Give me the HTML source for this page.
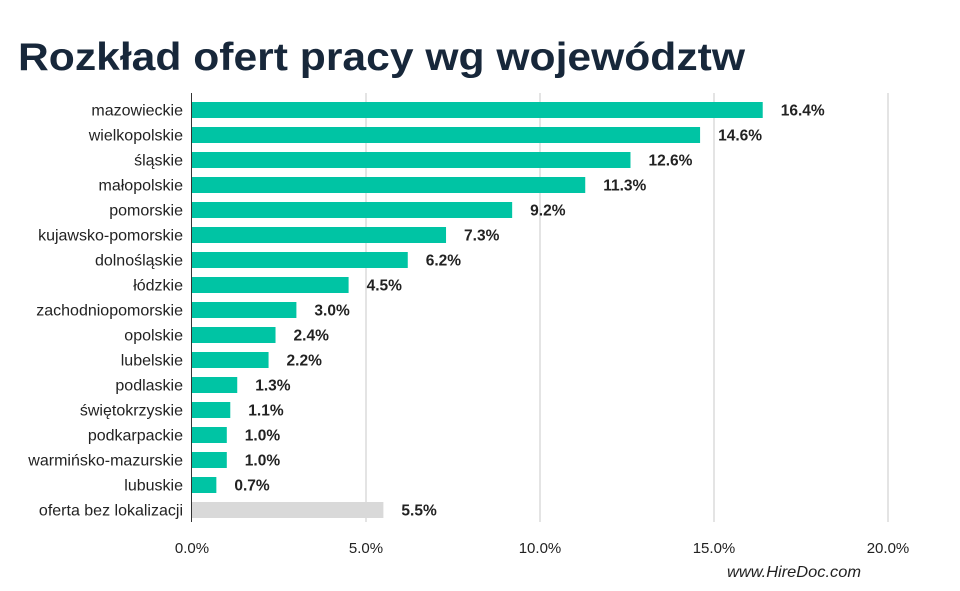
<!DOCTYPE html>
<html><head><meta charset="utf-8"><style>
body{margin:0;background:#fff;width:960px;height:591px;overflow:hidden}
svg{display:block}
</style></head><body>
<svg id="chart" width="960" height="591" xmlns="http://www.w3.org/2000/svg" font-family="Liberation Sans, sans-serif">
<text x="18" y="70" font-size="39" font-weight="bold" fill="#17273a" textLength="727" lengthAdjust="spacingAndGlyphs">Rozkład ofert pracy wg województw</text>
<g id="grid"></g><g id="bars"></g>
<text x="861" y="577" font-size="16" font-style="italic" text-anchor="end" fill="#222" textLength="134" lengthAdjust="spacingAndGlyphs">www.HireDoc.com</text>
</svg>
<script>
const categories=["mazowieckie","wielkopolskie","śląskie","małopolskie","pomorskie","kujawsko-pomorskie","dolnośląskie","łódzkie","zachodniopomorskie","opolskie","lubelskie","podlaskie","świętokrzyskie","podkarpackie","warmińsko-mazurskie","lubuskie","oferta bez lokalizacji"];
const values=[16.4,14.6,12.6,11.3,9.2,7.3,6.2,4.5,3.0,2.4,2.2,1.3,1.1,1.0,1.0,0.7,5.5];
const valueLabels=["16.4%","14.6%","12.6%","11.3%","9.2%","7.3%","6.2%","4.5%","3.0%","2.4%","2.2%","1.3%","1.1%","1.0%","1.0%","0.7%","5.5%"];
const ticks=[0,5,10,15,20];
const tickLabels=["0.0%","5.0%","10.0%","15.0%","20.0%"];
const NS="http://www.w3.org/2000/svg";
const plotX0=192,plotX1=888,plotTop=93,plotBottom=522,maxV=20;
const xs=v=>plotX0+(v/maxV)*(plotX1-plotX0);
const band=25;
const ys=i=>110+band*i;
function mk(t,a,p){const e=document.createElementNS(NS,t);for(const k in a)e.setAttribute(k,a[k]);p.appendChild(e);return e;}
const gGrid=document.getElementById('grid'),gBars=document.getElementById('bars');
ticks.forEach((t,i)=>{
  if(i>0){const l=mk('line',{x1:xs(t),x2:xs(t),y1:plotTop,y2:plotBottom,stroke:'#c8c8c8','stroke-width':1},gGrid);
  
  }
  const tx=mk('text',{x:xs(t),y:553,'font-size':15,'text-anchor':'middle',fill:'#222'},gGrid);
  tx.textContent=tickLabels[i];
  
  
});
const ax=mk('line',{x1:plotX0-0.5,x2:plotX0-0.5,y1:plotTop,y2:plotBottom,stroke:'#333','stroke-width':1},gGrid);


categories.forEach((c,i)=>{
  const y=ys(i),last=i===categories.length-1;
  const r=mk('rect',{x:plotX0,y:y-8,width:xs(values[i])-plotX0,height:16,fill:last?'#d9d9d9':'#00c4a4'},gBars);
  
  
  const l=mk('text',{x:183,y:y+5.5,'font-size':16,'text-anchor':'end',fill:'#222'},gBars);
  l.textContent=c;
  
  
  const v=mk('text',{x:xs(values[i])+18,y:y+5.5,'font-size':15.5,'font-weight':'bold',fill:'#222'},gBars);
  v.textContent=valueLabels[i];
  
  
});
</script>
</body></html>
